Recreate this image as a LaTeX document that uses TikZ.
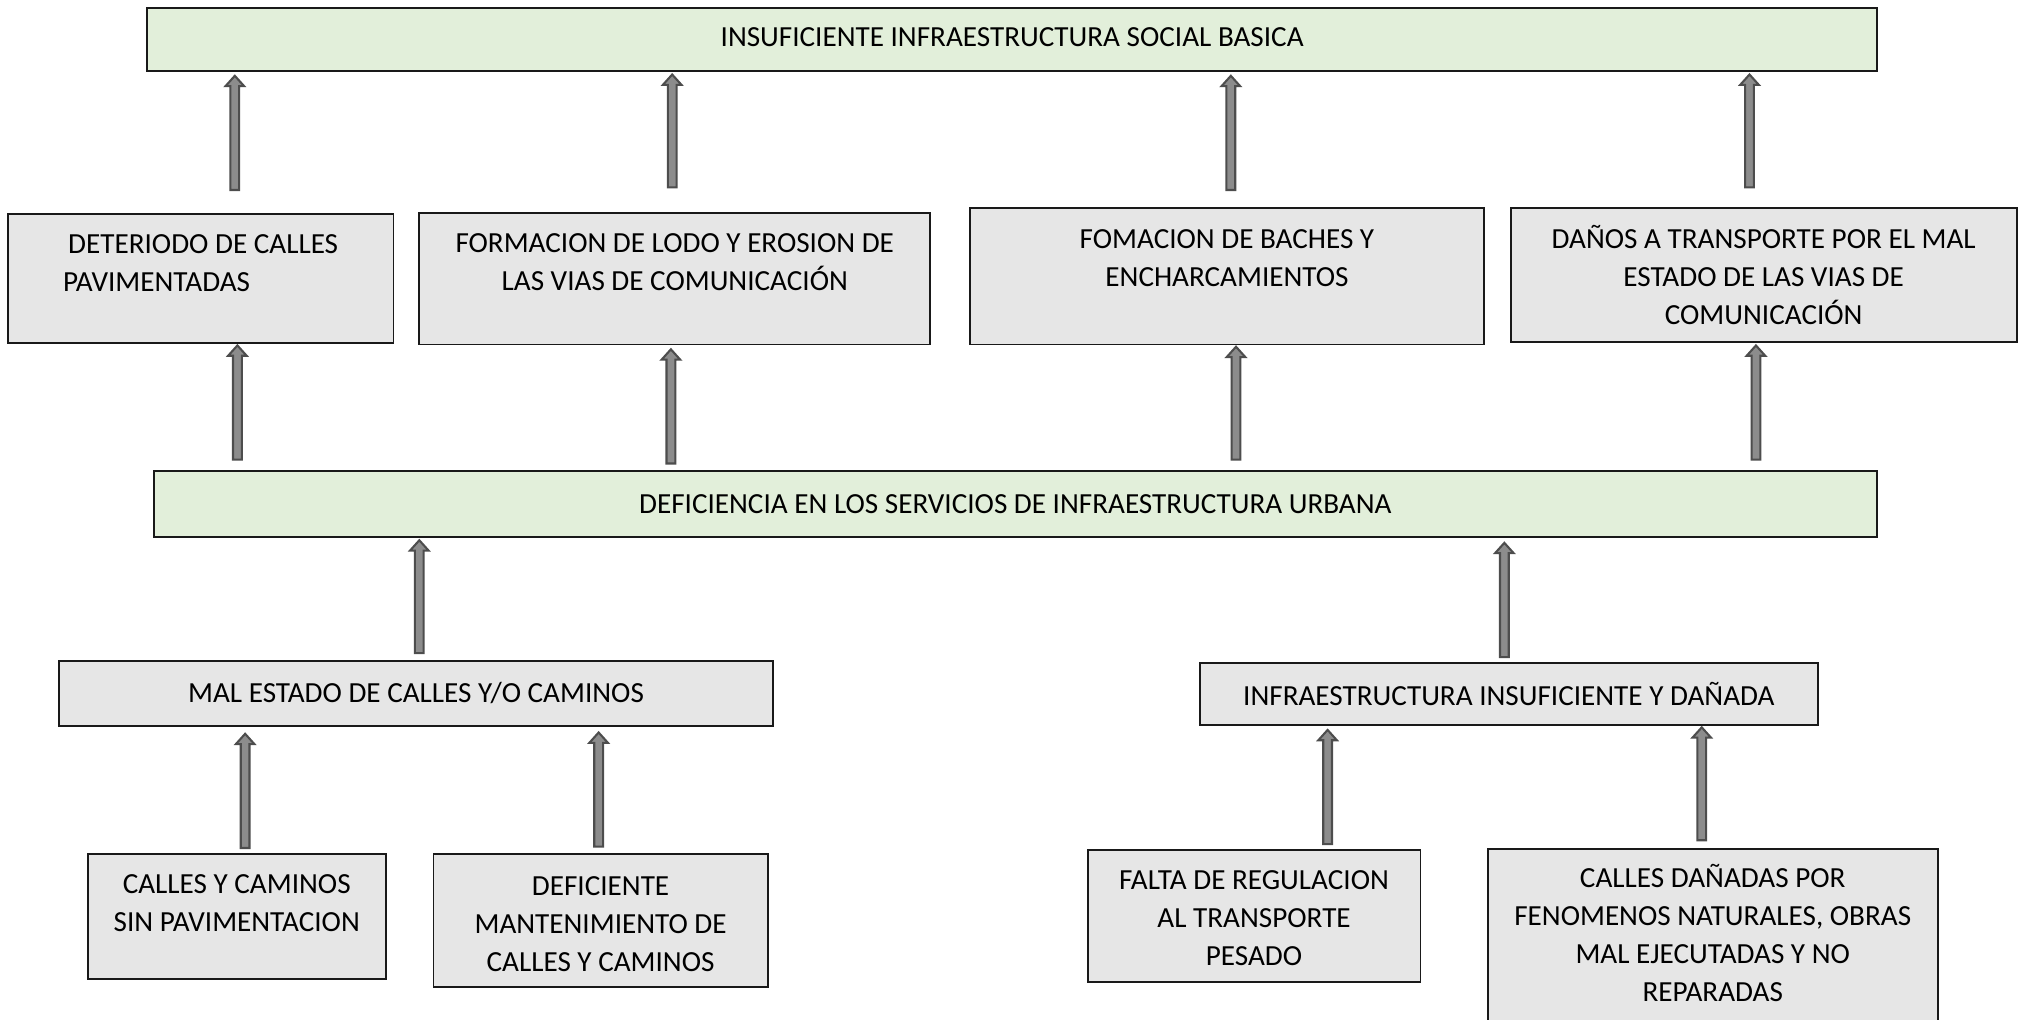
\documentclass[tikz,border=0pt]{standalone}
\usepackage{fontspec}
\setmainfont{Carlito}
\usetikzlibrary{calc}
\definecolor{boxgreen}{HTML}{E2EFDA}
\definecolor{boxgray}{HTML}{E6E6E6}
\definecolor{arrowedge}{HTML}{4D4D4D}
\definecolor{arrowfill}{HTML}{8C8C8C}
\tikzset{
  basebox/.style={draw=black!90, line width=1.5pt, inner sep=0pt, align=center,
    font=\fontsize{22.6}{29.5}\selectfont},
  greenbox/.style={basebox, fill=boxgreen},
  graybox/.style={basebox, fill=boxgray},
  arrowsty/.style={draw=arrowedge, fill=arrowfill, line width=1.6pt, line join=miter}
}
% raises the first line's height so the text block sits lower by #1
\newcommand\lowertext[1]{\rule{0pt}{\dimexpr 14.5pt+2\dimexpr #1\relax\relax}}
% adds depth to the last line so the text block sits higher by #1
\newcommand\raisetext[1]{\rule[-2\dimexpr #1\relax]{0pt}{0pt}}
\newcommand\blockarr[2]{%
  \filldraw[arrowsty] let \p1=#1, \p2=#2 in
    (\x1-3.4pt,\y1) -- (\x1-3.4pt,\y2-8pt) -- (\x1-7.2pt,\y2-8pt) -- (\x1,\y2)
    -- (\x1+7.2pt,\y2-8pt) -- (\x1+3.4pt,\y2-8pt) -- (\x1+3.4pt,\y1) -- cycle;}
\begin{document}
\begin{tikzpicture}[x=1pt,y=1pt]
\useasboundingbox (0,0) rectangle (1568,-790);
% top
\node[greenbox, minimum width=1341pt, minimum height=49pt] (top) at (784.5,-30.5)
  {INSUFICIENTE INFRAESTRUCTURA SOCIAL BASICA\raisetext{2pt}};
% row 1
\node[graybox, align=left, minimum width=299pt, minimum height=100pt] (b1) at (155.5,-216)
  {\lowertext{3pt}\hspace*{4pt}DETERIODO DE CALLES\\PAVIMENTADAS\\~};
\node[graybox, minimum width=396pt, minimum height=102pt] (b2) at (523,-216)
  {\lowertext{2pt}FORMACION DE LODO Y EROSION DE\\LAS VIAS DE COMUNICACIÓN\\~};
\node[graybox, minimum width=398pt, minimum height=106pt] (b3) at (951,-214)
  {\lowertext{1pt}FOMACION DE BACHES Y\\ENCHARCAMIENTOS\\~};
\node[graybox, minimum width=392pt, minimum height=104pt] (b4) at (1367,-213)
  {DAÑOS A TRANSPORTE POR EL MAL\\ESTADO DE LAS VIAS DE\\COMUNICACIÓN};
% middle
\node[greenbox, minimum width=1336pt, minimum height=51pt] (mid) at (787,-390.5)
  {DEFICIENCIA EN LOS SERVICIOS DE INFRAESTRUCTURA URBANA};
% row 3
\node[graybox, minimum width=553pt, minimum height=51pt] (l) at (322.5,-537.5)
  {MAL ESTADO DE CALLES Y/O CAMINOS};
\node[graybox, minimum width=479pt, minimum height=48pt] (r) at (1169.5,-538)
  {INFRAESTRUCTURA INSUFICIENTE Y DAÑADA};
% row 4
\node[graybox, minimum width=231pt, minimum height=97pt] (c1) at (183.5,-710.5)
  {\lowertext{4pt}CALLES Y CAMINOS\\SIN PAVIMENTACION\\~};
\node[graybox, minimum width=259pt, minimum height=103pt] (c2) at (465.5,-713.5)
  {\lowertext{3pt}DEFICIENTE\\MANTENIMIENTO DE\\CALLES Y CAMINOS};
\node[graybox, minimum width=258pt, minimum height=102pt] (c3) at (972,-710)
  {\lowertext{2pt}FALTA DE REGULACION\\AL TRANSPORTE\\PESADO};
\node[graybox, minimum width=349pt, minimum height=136pt] (c4) at (1327.5,-726)
  {CALLES DAÑADAS POR\\FENOMENOS NATURALES, OBRAS\\MAL EJECUTADAS Y NO\\REPARADAS\raisetext{3pt}};
% arrows row 1 -> top
\blockarr{([xshift=26.5pt,yshift=18pt]b1.north)}{([yshift=-3pt]top.south)}
\blockarr{([xshift=-2pt,yshift=19pt]b2.north)}{([yshift=-2pt]top.south)}
\blockarr{([xshift=3pt,yshift=13pt]b3.north)}{([yshift=-3pt]top.south)}
\blockarr{([xshift=-11pt,yshift=15pt]b4.north)}{([yshift=-2pt]top.south)}
% arrows mid -> row 1
\blockarr{([xshift=-603pt,yshift=8pt]mid.north)}{([yshift=-1pt]b1.south)}
\blockarr{([xshift=-267pt,yshift=5pt]mid.north)}{([yshift=-3pt]b2.south)}
\blockarr{([xshift=171pt,yshift=8pt]mid.north)}{([yshift=-1pt]b3.south)}
\blockarr{([xshift=574pt,yshift=8pt]mid.north)}{([yshift=-2pt]b4.south)}
% arrows row 3 -> mid
\blockarr{([xshift=2.5pt,yshift=5pt]l.north)}{([yshift=-2pt]mid.south)}
\blockarr{([xshift=-3.5pt,yshift=4pt]r.north)}{([yshift=-4pt]mid.south)}
% arrows row 4 -> row 3
\blockarr{([xshift=6.5pt,yshift=4pt]c1.north)}{([yshift=-5pt]l.south)}
\blockarr{([xshift=-1.5pt,yshift=5pt]c2.north)}{([yshift=-4pt]l.south)}
\blockarr{([xshift=57pt,yshift=4pt]c3.north)}{([yshift=-3pt]r.south)}
\blockarr{([xshift=-8.5pt,yshift=6pt]c4.north)}{([yshift=-1pt]r.south)}
\end{tikzpicture}
\end{document}
